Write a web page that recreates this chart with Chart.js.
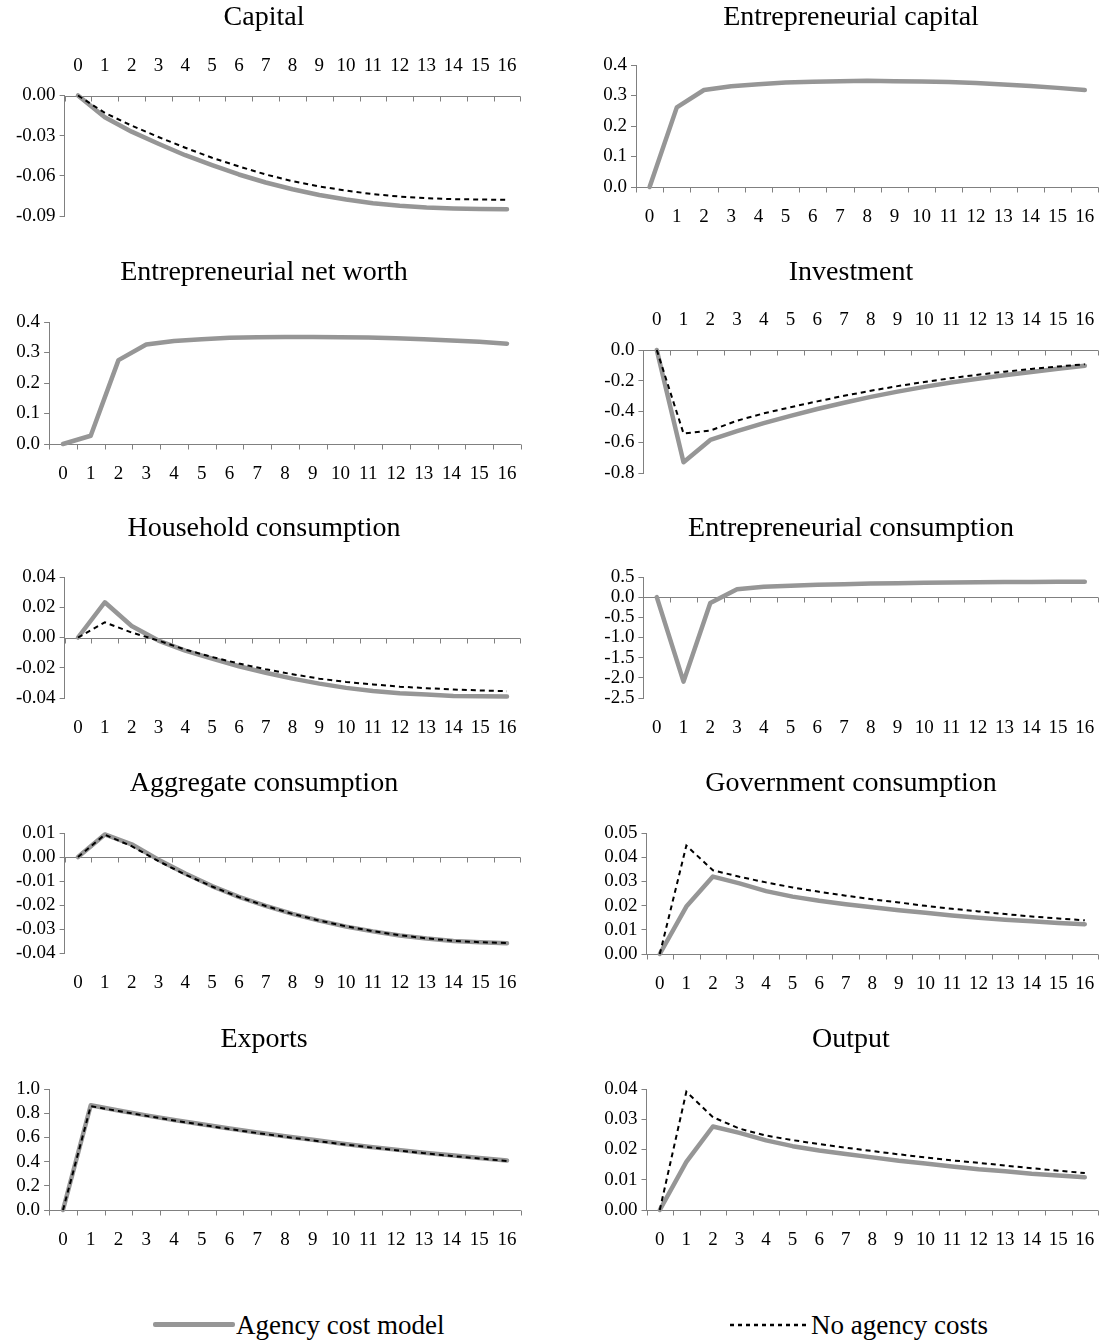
<!DOCTYPE html>
<html><head><meta charset="utf-8">
<script src="https://cdn.jsdelivr.net/npm/chart.js@4.4.1/dist/chart.umd.min.js"></script>
<style>
html,body{margin:0;padding:0;background:#fff;}
#page{position:relative;width:1113px;height:1341px;overflow:hidden;background:#fff;}
#page canvas{position:absolute;}
.leg{position:absolute;font-family:"Liberation Serif",serif;font-size:27px;color:#000;line-height:30px;white-space:nowrap;}
</style></head>
<body>
<div id="page">
  <div style="position:absolute;left:153px;top:1322px;width:82px;height:5px;background:#969696;border-radius:2px"></div>
  <div class="leg" style="left:236px;top:1310px">Agency cost model</div>
  <svg style="position:absolute;left:728px;top:1319px" width="84" height="12"><line x1="2" y1="6" x2="82" y2="6" stroke="#000" stroke-width="2.5" stroke-dasharray="4 4"/></svg>
  <div class="leg" style="left:811px;top:1310px">No agency costs</div>
</div>
<script>
// ---------- data ----------
const periods = ['0','1','2','3','4','5','6','7','8','9','10','11','12','13','14','15','16'];

const capitalAgency   = [0,-0.0163,-0.027,-0.036,-0.0446,-0.052,-0.059,-0.065,-0.070,-0.0743,-0.0777,-0.0805,-0.0824,-0.0837,-0.0844,-0.0847,-0.085];
const capitalNoAgency = [0,-0.013,-0.0225,-0.031,-0.039,-0.0465,-0.053,-0.059,-0.064,-0.068,-0.071,-0.0737,-0.0755,-0.0767,-0.0774,-0.0777,-0.0779];
const capitalTicks = [-0.09,-0.06,-0.03,0];

const entCapitalAgency = [0,0.261,0.318,0.33,0.337,0.3425,0.345,0.347,0.348,0.347,0.346,0.344,0.341,0.336,0.331,0.325,0.318];
const entCapitalTicks = [0,0.1,0.2,0.3,0.4];

const netWorthAgency = [0,0.027,0.275,0.326,0.338,0.3435,0.348,0.350,0.351,0.351,0.350,0.349,0.347,0.3435,0.339,0.335,0.329];
const netWorthTicks = [0,0.1,0.2,0.3,0.4];

const investmentAgency   = [0,-0.73,-0.585,-0.528,-0.476,-0.428,-0.384,-0.343,-0.305,-0.271,-0.240,-0.212,-0.187,-0.164,-0.143,-0.122,-0.102];
const investmentNoAgency = [0,-0.543,-0.524,-0.46,-0.412,-0.372,-0.334,-0.298,-0.265,-0.235,-0.208,-0.183,-0.161,-0.141,-0.123,-0.107,-0.093];
const investmentTicks = [-0.8,-0.6,-0.4,-0.2,0];

const householdAgency   = [0,0.0233,0.0076,-0.002,-0.0087,-0.014,-0.019,-0.0233,-0.0272,-0.0305,-0.0333,-0.0353,-0.0368,-0.0377,-0.0386,-0.0388,-0.039];
const householdNoAgency = [0,0.010,0.0033,-0.002,-0.008,-0.0129,-0.0172,-0.021,-0.0243,-0.0272,-0.0294,-0.031,-0.0325,-0.0335,-0.0344,-0.035,-0.0355];
const householdTicks = [-0.04,-0.02,0,0.02,0.04];

const entConsAgency = [0,-2.094,-0.146,0.195,0.26,0.285,0.305,0.322,0.336,0.348,0.358,0.366,0.372,0.376,0.379,0.381,0.383];
const entConsTicks = [-2.5,-2,-1.5,-1,-0.5,0,0.5];

const aggConsAgency   = [0,0.0094,0.0053,-0.0011,-0.0069,-0.0121,-0.0166,-0.0204,-0.0237,-0.0265,-0.029,-0.031,-0.0327,-0.034,-0.035,-0.0355,-0.0359];
const aggConsNoAgency = [0,0.0093,0.0045,-0.0017,-0.0073,-0.0123,-0.0167,-0.0204,-0.0237,-0.0265,-0.0289,-0.0309,-0.0326,-0.0339,-0.0349,-0.0355,-0.0358];
const aggConsTicks = [-0.04,-0.03,-0.02,-0.01,0,0.01];

const govConsAgency   = [0,0.0196,0.032,0.0292,0.026,0.0237,0.022,0.0206,0.0193,0.0181,0.017,0.0159,0.015,0.0142,0.0135,0.0128,0.0123];
const govConsNoAgency = [0,0.0448,0.0346,0.0319,0.0296,0.0275,0.0257,0.0241,0.0226,0.0213,0.0199,0.0187,0.0176,0.0165,0.0155,0.0147,0.0139];
const govConsTicks = [0,0.01,0.02,0.03,0.04,0.05];

const exportsAgency   = [0,0.866,0.823,0.782,0.744,0.708,0.673,0.64,0.61,0.58,0.55,0.523,0.499,0.474,0.452,0.43,0.409];
const exportsNoAgency = [0,0.858,0.818,0.778,0.74,0.704,0.669,0.636,0.605,0.575,0.546,0.519,0.494,0.47,0.447,0.426,0.405];
const exportsTicks = [0,0.2,0.4,0.6,0.8,1.0];

const outputAgency   = [0,0.0159,0.0276,0.0255,0.023,0.0211,0.0197,0.0185,0.0174,0.0163,0.0154,0.0144,0.0135,0.0128,0.012,0.0114,0.0108];
const outputNoAgency = [0,0.0391,0.0307,0.0269,0.0246,0.0231,0.0218,0.0206,0.0195,0.0184,0.0174,0.0164,0.0156,0.0147,0.0138,0.013,0.0122];
const outputTicks = [0,0.01,0.02,0.03,0.04];

const seriesNames = ['Agency cost model','No agency costs'];

// ---------- layout / style ----------
const AXIS = '#808080';
const GRAY = '#969696';
const FONT = '"Liberation Serif", "Times New Roman", serif';
const colLeft = [0, 570], colWidth = [540, 543];
const rowTop = [0, 255, 510, 766, 1021], rowH = 255;
const titleX = [264, 851], titleY = [18, 273, 529, 784, 1040];
const XAXIS_H = 40;

const panels = [
  {title:'Capital', col:0,row:0, plot:[64.6,520.4,95.5,216], pos:'top', ticks:capitalTicks, dec:2, a:capitalAgency, n:capitalNoAgency},
  {title:'Entrepreneurial capital', col:1,row:0, plot:[636,1107,65,187], pos:'bottom', ticks:entCapitalTicks, dec:1, a:entCapitalAgency, n:null},
  {title:'Entrepreneurial net worth', col:0,row:1, plot:[49.1,520.9,322,444], pos:'bottom', ticks:netWorthTicks, dec:1, a:netWorthAgency, n:null},
  {title:'Investment', col:1,row:1, plot:[643.4,1106.6,350,473], pos:'top', ticks:investmentTicks, dec:1, a:investmentAgency, n:investmentNoAgency},
  {title:'Household consumption', col:0,row:2, plot:[64.6,520.4,577,698], pos:'bottom', ticks:householdTicks, dec:2, a:householdAgency, n:householdNoAgency},
  {title:'Entrepreneurial consumption', col:1,row:2, plot:[643.4,1106.6,577,698], pos:'bottom', ticks:entConsTicks, dec:1, a:entConsAgency, n:null},
  {title:'Aggregate consumption', col:0,row:3, plot:[64.6,520.4,833,953], pos:'bottom', ticks:aggConsTicks, dec:2, a:aggConsAgency, n:aggConsNoAgency},
  {title:'Government consumption', col:1,row:3, plot:[646.5,1106.5,833,954], pos:'bottom', ticks:govConsTicks, dec:2, a:govConsAgency, n:govConsNoAgency},
  {title:'Exports', col:0,row:4, plot:[49.1,520.9,1089,1210], pos:'bottom', ticks:exportsTicks, dec:1, a:exportsAgency, n:exportsNoAgency},
  {title:'Output', col:1,row:4, plot:[646.5,1106.5,1089,1210], pos:'bottom', ticks:outputTicks, dec:2, a:outputAgency, n:outputNoAgency}
];

const panelPlugin = {
  id: 'panelDecor',
  beforeDatasetsDraw(chart) {
    const {ctx, chartArea: a, scales: {x, y}} = chart;
    const y0 = Math.round(y.getPixelForValue(0)) + 0.5;
    const n = x.getLabels().length;
    const w = (a.right - a.left) / n;
    ctx.save();
    ctx.strokeStyle = AXIS; ctx.lineWidth = 1;
    ctx.beginPath();
    ctx.moveTo(a.left, y0); ctx.lineTo(a.right, y0);
    for (let i = 0; i <= n; i++) {
      const px = Math.round(a.left + i * w) + 0.5;
      ctx.moveTo(px, y0); ctx.lineTo(px, y0 + 5);
    }
    ctx.stroke();
    ctx.restore();
  },
  afterDraw(chart, args, opts) {
    const ctx = chart.ctx;
    ctx.save();
    ctx.font = '28px ' + FONT;
    ctx.fillStyle = '#000';
    ctx.textAlign = 'center';
    ctx.textBaseline = 'middle';
    ctx.fillText(opts.text, opts.x, opts.y);
    ctx.restore();
  }
};

const page = document.getElementById('page');
panels.forEach(p => {
  const cl = colLeft[p.col], cw = colWidth[p.col], ct = rowTop[p.row];
  const [L, R, T, B] = p.plot;
  const cv = document.createElement('canvas');
  cv.width = cw; cv.height = rowH;
  cv.style.left = cl + 'px'; cv.style.top = ct + 'px';
  cv.style.width = cw + 'px'; cv.style.height = rowH + 'px';
  page.appendChild(cv);

  const yW = L - cl;
  const padRight = cl + cw - R;
  let padTop, padBottom;
  if (p.pos === 'top') {
    padTop = T - ct - XAXIS_H;
    padBottom = ct + rowH - B;
  } else {
    padTop = T - ct;
    padBottom = ct + rowH - B - XAXIS_H;
  }

  const datasets = [];
  if (p.n) datasets.push({label: seriesNames[1], data: p.n, borderColor: '#000', borderWidth: 2, borderDash: [5, 4],
    pointRadius: 0, fill: false, tension: 0, clip: false});
  datasets.push({label: seriesNames[0], data: p.a, borderColor: GRAY, borderWidth: 4.5, pointRadius: 0, fill: false,
    tension: 0, clip: false, borderCapStyle: 'round', borderJoinStyle: 'round'});

  const tickVals = p.ticks;
  new Chart(cv, {
    type: 'line',
    data: {labels: periods, datasets},
    options: {
      responsive: false, animation: false, devicePixelRatio: 1,
      layout: {padding: {left: 0, right: padRight, top: padTop, bottom: padBottom}},
      plugins: {
        legend: {display: false}, tooltip: {enabled: false}, title: {display: false},
        panelDecor: {text: p.title, x: titleX[p.col] - cl, y: titleY[p.row] - ct}
      },
      scales: {
        x: {
          type: 'category', position: p.pos, offset: true,
          grid: {display: false, drawTicks: false}, border: {display: false},
          ticks: {font: {family: FONT, size: 19}, color: '#000', padding: 18.5, maxRotation: 0, autoSkip: false},
          afterFit(s) { s.height = XAXIS_H; }
        },
        y: {
          position: 'left', min: tickVals[0], max: tickVals[tickVals.length - 1],
          grid: {drawOnChartArea: false, drawTicks: true, tickLength: 5, color: AXIS, lineWidth: 1},
          border: {display: true, color: AXIS, width: 1},
          ticks: {font: {family: FONT, size: 19}, color: '#000', padding: 4, autoSkip: false,
            callback: v => Number(v).toFixed(p.dec)},
          afterBuildTicks(s) { s.ticks = tickVals.map(v => ({value: v})); },
          afterFit(s) { s.width = yW; }
        }
      }
    },
    plugins: [panelPlugin]
  });
});
</script>
</body></html>
